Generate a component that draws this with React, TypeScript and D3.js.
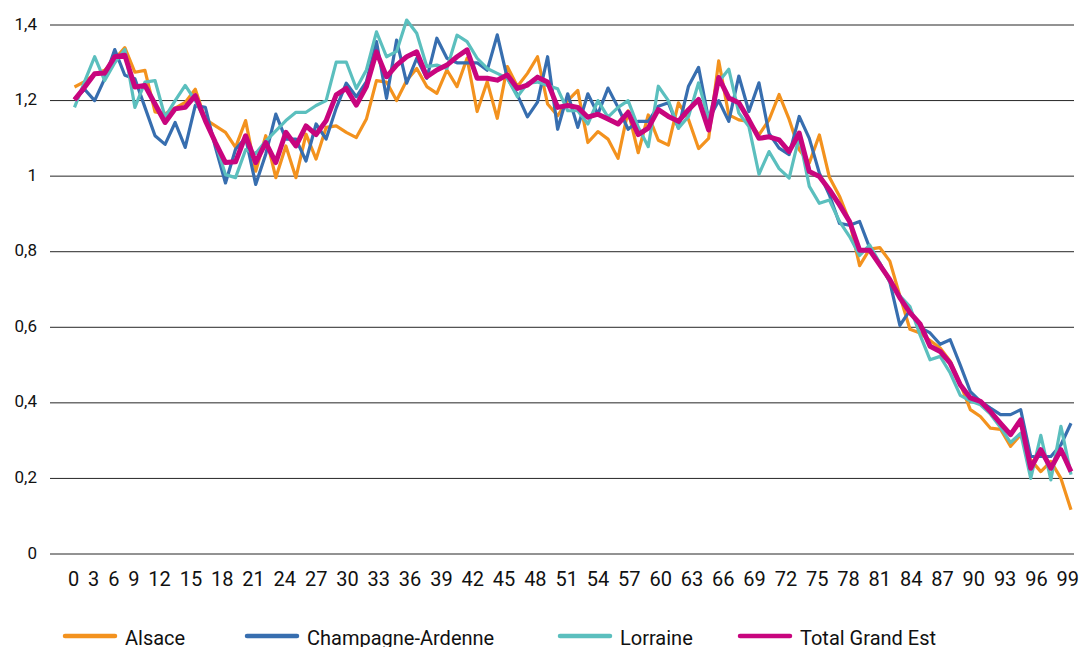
import React, { useEffect, useRef } from "react";
import * as d3 from "d3";

// Ages (x categories)
const ages: number[] = [
  0, 1, 2, 3, 4, 5, 6, 7, 8, 9, 10, 11, 12, 13, 14, 15, 16, 17, 18, 19,
  20, 21, 22, 23, 24, 25, 26, 27, 28, 29, 30, 31, 32, 33, 34, 35, 36, 37, 38, 39,
  40, 41, 42, 43, 44, 45, 46, 47, 48, 49, 50, 51, 52, 53, 54, 55, 56, 57, 58, 59,
  60, 61, 62, 63, 64, 65, 66, 67, 68, 69, 70, 71, 72, 73, 74, 75, 76, 77, 78, 79,
  80, 81, 82, 83, 84, 85, 86, 87, 88, 89, 90, 91, 92, 93, 94, 95, 96, 97, 98, 99,
];

const xTickLabels: string[] = [
  "0", "3", "6", "9", "12", "15", "18", "21", "24", "27", "30", "33", "36", "39", "42", "45", "48",
  "51", "54", "57", "60", "63", "66", "69", "72", "75", "78", "81", "84", "87", "90", "93", "96", "99",
];

const yTicks: number[] = [0, 0.2, 0.4, 0.6, 0.8, 1, 1.2, 1.4];
const yTickLabels: string[] = ["0", "0,2", "0,4", "0,6", "0,8", "1", "1,2", "1,4"];

const alsace: number[] = [
  1.236, 1.25, 1.27, 1.28, 1.31, 1.34, 1.275, 1.28, 1.17, 1.165,
  1.18, 1.195, 1.23, 1.15, 1.133, 1.116, 1.076, 1.147, 1.013, 1.107,
  0.996, 1.08, 0.996, 1.111, 1.045, 1.129, 1.133, 1.116, 1.102, 1.151,
  1.253, 1.249, 1.2, 1.253, 1.285, 1.237, 1.219, 1.281, 1.237, 1.312,
  1.171, 1.25, 1.153, 1.29, 1.237, 1.272, 1.316, 1.191, 1.16, 1.2,
  1.227, 1.089, 1.118, 1.098, 1.047, 1.173, 1.062, 1.162, 1.095, 1.082,
  1.194, 1.15, 1.073, 1.1, 1.305, 1.162, 1.149, 1.145, 1.109, 1.149,
  1.216, 1.15, 1.07, 1.035, 1.109, 0.997, 0.947, 0.88, 0.763, 0.807,
  0.811, 0.775, 0.683, 0.595, 0.585, 0.565, 0.545, 0.51, 0.45, 0.382,
  0.364, 0.333, 0.33, 0.285, 0.316, 0.249, 0.218, 0.245, 0.2, 0.117,
];

const champagne: number[] = [
  1.204, 1.23, 1.2, 1.258, 1.335, 1.267, 1.258, 1.182, 1.107, 1.084,
  1.142, 1.076, 1.187, 1.182, 1.076, 0.982, 1.071, 1.102, 0.978, 1.058,
  1.164, 1.098, 1.098, 1.04, 1.138, 1.098, 1.18, 1.246, 1.21, 1.25,
  1.356, 1.206, 1.36, 1.246, 1.312, 1.259, 1.365, 1.312, 1.3, 1.3,
  1.3, 1.28, 1.374, 1.259, 1.215, 1.157, 1.196, 1.316, 1.124, 1.218,
  1.129, 1.218, 1.164, 1.233, 1.182, 1.124, 1.145, 1.145, 1.185, 1.194,
  1.127, 1.238, 1.288, 1.149, 1.2, 1.145, 1.265, 1.171, 1.247, 1.113,
  1.074, 1.057, 1.158, 1.1, 1.008, 0.95, 0.875, 0.87, 0.88, 0.81,
  0.77, 0.72, 0.605, 0.645, 0.6, 0.585, 0.555, 0.567, 0.5, 0.43,
  0.404, 0.386, 0.369, 0.369, 0.382, 0.258, 0.258, 0.258, 0.289, 0.346,
];

const lorraine: number[] = [
  1.182, 1.25, 1.316, 1.253, 1.3, 1.335, 1.182, 1.249, 1.253, 1.156,
  1.2, 1.24, 1.2, 1.147, 1.089, 1.004, 0.996, 1.07, 1.06, 1.093,
  1.12, 1.147, 1.169, 1.169, 1.187, 1.2, 1.302, 1.302, 1.232, 1.281,
  1.382, 1.316, 1.33, 1.413, 1.378, 1.29, 1.294, 1.285, 1.373, 1.356,
  1.312, 1.285, 1.272, 1.259, 1.21, 1.246, 1.249, 1.24, 1.231, 1.173,
  1.173, 1.138, 1.2, 1.156, 1.182, 1.2, 1.13, 1.078, 1.238, 1.2,
  1.127, 1.158, 1.247, 1.15, 1.25, 1.283, 1.167, 1.131, 1.005, 1.065,
  1.02, 0.995, 1.105, 0.973, 0.928, 0.937, 0.88, 0.84, 0.79, 0.818,
  0.77, 0.72, 0.683, 0.655, 0.58, 0.514, 0.523, 0.479, 0.42, 0.405,
  0.395, 0.37, 0.335, 0.295, 0.32, 0.2, 0.314, 0.196, 0.338, 0.21,
];

const totalGrandEst: number[] = [
  1.202, 1.235, 1.271, 1.273, 1.316, 1.32, 1.236, 1.24, 1.191, 1.142,
  1.178, 1.182, 1.213, 1.147, 1.089, 1.036, 1.038, 1.107, 1.036, 1.089,
  1.036, 1.116, 1.08, 1.133, 1.11, 1.147, 1.215, 1.232, 1.188, 1.237,
  1.329, 1.263, 1.294, 1.316, 1.329, 1.263, 1.281, 1.294, 1.316, 1.334,
  1.259, 1.259, 1.254, 1.268, 1.232, 1.241, 1.262, 1.249, 1.182, 1.187,
  1.182, 1.156, 1.164, 1.151, 1.138, 1.169, 1.11, 1.127, 1.176, 1.158,
  1.145, 1.176, 1.203, 1.122, 1.261, 1.207, 1.194, 1.149, 1.1, 1.104,
  1.096, 1.065, 1.114, 1.012, 0.999, 0.964, 0.924, 0.88, 0.804, 0.804,
  0.765, 0.726, 0.678, 0.639, 0.609, 0.55, 0.536, 0.505, 0.448, 0.413,
  0.404, 0.377, 0.346, 0.316, 0.355, 0.227, 0.276, 0.227, 0.276, 0.218,
];

const seriesNames: string[] = ["Alsace", "Champagne-Ardenne", "Lorraine", "Total Grand Est"];
const seriesValues: number[][] = [alsace, champagne, lorraine, totalGrandEst];
const seriesColors: string[] = ["#F3921E", "#376EAF", "#5BBFBE", "#C8057E"];
const seriesWidths: number[] = [3.2, 3.2, 3.2, 5];

const W = 1090;
const H = 647;
const FONT = "Roboto, 'Noto Sans', sans-serif";

export default function App() {
  const ref = useRef<SVGSVGElement | null>(null);

  useEffect(() => {
    const svg = d3.select(ref.current);
    svg.selectAll("*").remove();

    const x = d3.scaleLinear().domain([0, 99]).range([74.5, 1071]);
    const y = d3.scaleLinear().domain([0, 1.4]).range([554, 25]);

    // gridlines
    svg
      .append("g")
      .selectAll("line")
      .data(yTicks)
      .join("line")
      .attr("x1", 50)
      .attr("x2", 1074)
      .attr("y1", (d) => y(d))
      .attr("y2", (d) => y(d))
      .attr("stroke", "#262626")
      .attr("stroke-width", 1);

    // y labels
    svg
      .append("g")
      .selectAll("text")
      .data(yTicks)
      .join("text")
      .attr("x", 37)
      .attr("y", (d) => y(d) + 4.5)
      .attr("text-anchor", "end")
      .attr("font-family", FONT)
      .attr("font-size", 17)
      .attr("fill", "#111")
      .text((d, i) => yTickLabels[i]);

    // series
    const line = d3
      .line<number>()
      .x((d, i) => x(ages[i]))
      .y((d) => y(d));

    const lines = svg.append("g");
    seriesValues.forEach((vals, k) => {
      lines
        .append("path")
        .attr("d", line(vals) || "")
        .attr("fill", "none")
        .attr("stroke", seriesColors[k])
        .attr("stroke-width", seriesWidths[k])
        .attr("stroke-linejoin", "round")
        .attr("stroke-linecap", "butt");
    });

    // x tick labels laid out with even spacing between label boxes
    const xg = svg.append("g");
    const texts = xg
      .selectAll("text")
      .data(xTickLabels)
      .join("text")
      .attr("y", 586)
      .attr("font-family", FONT)
      .attr("font-size", 20)
      .attr("fill", "#111")
      .text((d) => d);
    const nodes = texts.nodes() as SVGTextElement[];
    const widths = nodes.map((n) => n.getComputedTextLength());
    const left = 68;
    const right = 1079;
    const totalW = d3.sum(widths);
    const gap = (right - left - totalW) / (widths.length - 1);
    let cur = left;
    nodes.forEach((n, i) => {
      n.setAttribute("x", String(cur));
      cur += widths[i] + gap;
    });

    // legend
    const legendX = [65, 247, 560, 740];
    const lg = svg.append("g");
    seriesNames.forEach((name, k) => {
      lg.append("line")
        .attr("x1", legendX[k])
        .attr("x2", legendX[k] + 50)
        .attr("y1", 636)
        .attr("y2", 636)
        .attr("stroke", seriesColors[k])
        .attr("stroke-width", 4.5)
        .attr("stroke-linecap", "round");
      lg.append("text")
        .attr("x", legendX[k] + 60)
        .attr("y", 644.5)
        .attr("font-family", FONT)
        .attr("font-size", 20)
        .attr("fill", "#111")
        .text(name);
    });
  }, []);

  return (
    <svg
      ref={ref}
      width={W}
      height={H}
      style={{ position: "absolute", left: 0, top: 0, background: "#fff" }}
    />
  );
}
